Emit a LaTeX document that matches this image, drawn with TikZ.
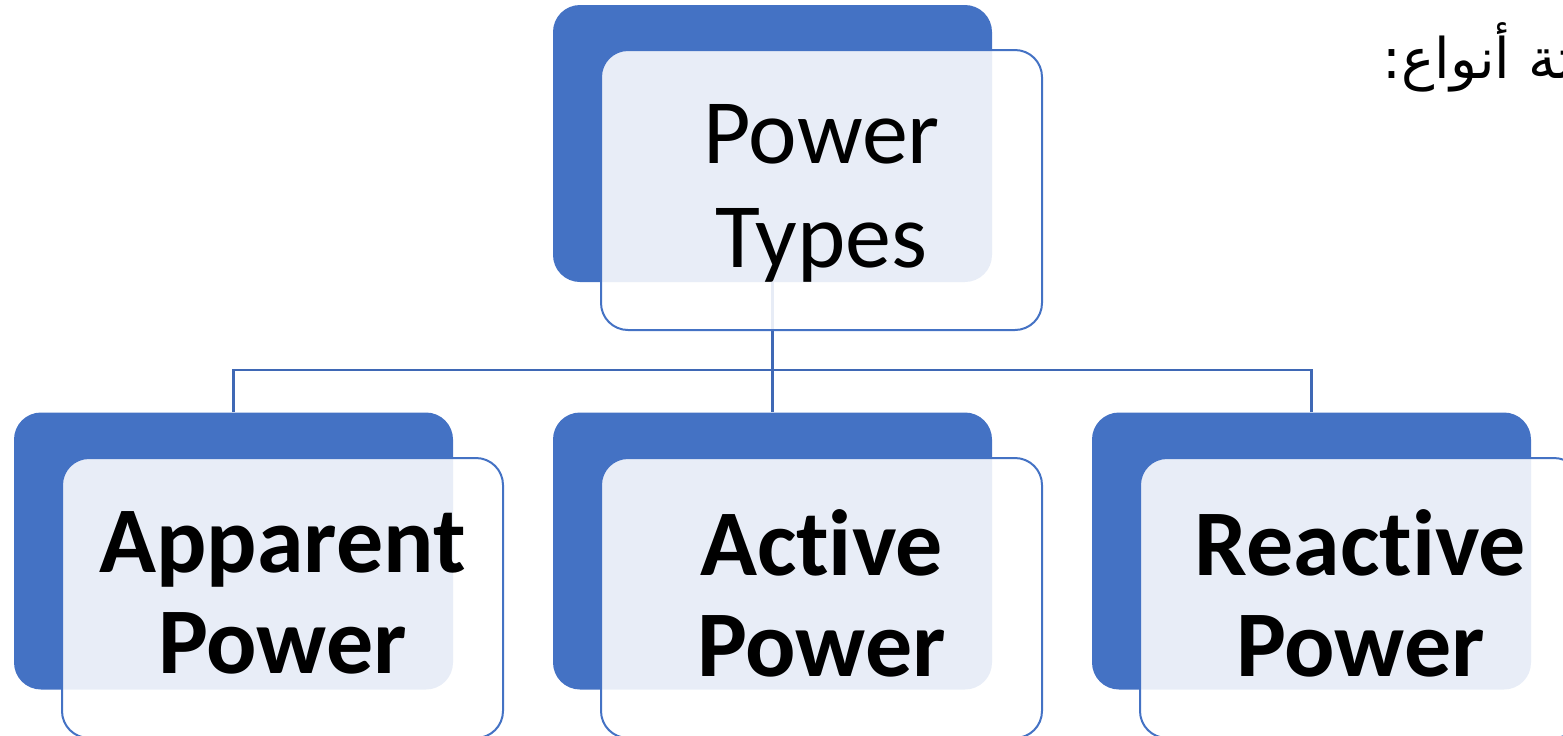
\documentclass[tikz,border=0pt]{standalone}
\usepackage{fontspec}
\setmainfont{Carlito}[Ligatures=NoCommon]
\newfontfamily\arabicfont[Script=Arabic]{DejaVu Sans}
\TeXXeTstate=1
\definecolor{accent}{HTML}{4472C4}
\definecolor{lineblue}{HTML}{3F68B5}
\tikzset{
  backbox/.style={fill=accent, draw=none, rounded corners=13.5pt,
    minimum width=219.5pt, minimum height=138.5pt, inner sep=0pt},
  frontbox/.style={draw=accent, line width=1pt, fill=white, fill opacity=0.88,
    rounded corners=13.5pt, minimum width=220.5pt,
    minimum height=140pt, inner sep=0pt},
  toptext/.style={font=\fontsize{46}{52}\selectfont, align=center, text=black, inner sep=0pt},
  subtext/.style={font=\fontsize{47}{50.5}\selectfont\bfseries, align=center, text=black, inner sep=0pt},
  conn/.style={draw=lineblue, line width=1.1pt}
}
\begin{document}
\begin{tikzpicture}[x=0.5pt, y=-0.5pt]
\useasboundingbox (0,0) rectangle (1563,735);
\clip (0,0) rectangle (1563,735);
% back boxes
\node[backbox] (tb) at (772.5,143.5) {};
\node[backbox] (ab) at (233.5,551) {};
\node[backbox] (mb) at (772.5,551) {};
\node[backbox] (rb) at (1311.5,551) {};
% connectors (behind front boxes)
\coordinate (j) at (772.5,370);
\draw[conn] (tb.south) -- (j);
\draw[conn] (ab.north) |- (j);
\draw[conn] (rb.north) |- (j);
\draw[conn] (j) -- (mb.north);
% front boxes
\node[frontbox] (tf) at (821.5,190) {};
\node[frontbox] (af) at (282.5,598) {};
\node[frontbox] (mf) at (821.5,598) {};
\node[frontbox] (rf) at (1360.5,598) {};
% texts
\node[toptext] (tt) at ([yshift=-1.5pt]tf.center) {Power\\Types};
\node[subtext] (at) at ([yshift=2.5pt]af.center) {Apparent\\Power};
\node[subtext] (mt) at ([yshift=2.5pt]mf.center) {Active\\Power};
\node[subtext] (rt) at ([yshift=2.5pt]rf.center) {Reactive\\Power};
% Arabic text
\node[anchor=base west, inner sep=0pt] (ar) at (1382,78)
  {\arabicfont\fontsize{28}{32}\selectfont\beginR ثلاثة أنواع:\endR};
\end{tikzpicture}
\end{document}
